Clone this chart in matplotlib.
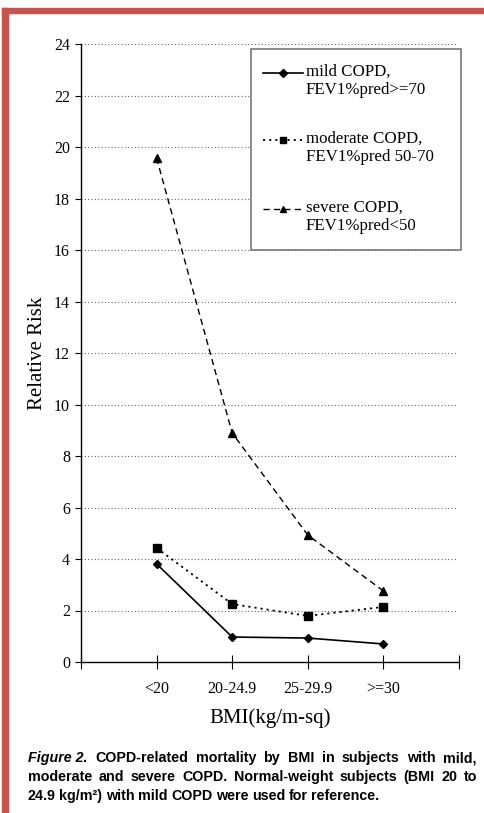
import matplotlib
matplotlib.use("Agg")
import matplotlib.pyplot as plt
from matplotlib.lines import Line2D
from matplotlib.patches import Rectangle

# data
categories = ["<20", "20-24.9", "25-29.9", ">=30"]
mild = [3.81, 0.97, 0.93, 0.70]
moderate = [4.43, 2.25, 1.79, 2.14]
severe = [19.57, 8.89, 4.93, 2.76]
series_labels = [
    "mild COPD,\nFEV1%pred>=70",
    "moderate COPD,\nFEV1%pred 50-70",
    "severe COPD,\nFEV1%pred<50",
]
y_ticks = list(range(0, 25, 2))
caption_lines = [
    "COPD-related mortality by BMI in subjects with mild,",
    "moderate and severe COPD. Normal-weight subjects (BMI 20 to",
    "24.9 kg/m\u00b2) with mild COPD were used for reference.",
]

serif = "Liberation Serif"
sans = "Liberation Sans"
W, H = 485, 813

fig = plt.figure(figsize=(W / 100, H / 100), dpi=100)

# red frame (left + top)
border = "#c9524f"
fig.patches.append(Rectangle((2 / W, 0), 6 / W, 1 - 8 / H, transform=fig.transFigure,
                             color=border, zorder=0))
fig.patches.append(Rectangle((2 / W, 1 - 13 / H), 1, 5 / H, transform=fig.transFigure,
                             color=border, zorder=0))

ax = fig.add_axes([81 / W, 1 - 662 / H, 378 / W, 618 / H])
x = list(range(1, len(categories) + 1))

styles = [
    dict(ls="-", marker="D", ms=4.5, lw=1.2),
    dict(ls=(0, (1.2, 2.2)), marker="s", ms=6, lw=1.3),
    dict(ls=(0, (4.5, 3)), marker="^", ms=6, lw=1.0),
]
for vals, st in zip([mild, moderate, severe], styles):
    ax.plot(x, vals, color="black", mec="black", mfc="black", zorder=3, **st)

ax.set_xlim(0, 5)
ax.set_ylim(0, 24)
ax.set_yticks(y_ticks)
ax.set_xticks(range(0, 6))
ax.set_xticklabels([""] + categories + [""])
ax.tick_params(axis="y", direction="out", length=4, width=0.8, pad=4)
ax.tick_params(axis="x", direction="inout", length=10, width=0.8, pad=9)
for lab in ax.get_xticklabels() + ax.get_yticklabels():
    lab.set_fontfamily(serif)
    lab.set_fontsize(11.5)

# dotted gridlines
for v in y_ticks[1:]:
    ax.plot([0, 4.98], [v, v], color="#666666", lw=0.8, ls=(0, (1, 2)), zorder=1)

for s in ["top", "right"]:
    ax.spines[s].set_visible(False)
ax.spines["left"].set_linewidth(1.0)
ax.spines["bottom"].set_linewidth(1.0)

ax.set_ylabel("Relative Risk", fontfamily=serif, fontsize=15, labelpad=5)
ax.set_xlabel("BMI(kg/m-sq)", fontfamily=serif, fontsize=15, labelpad=8)

# legend box drawn by hand so the handle sits on the first text line
lx0, lx1 = (251 - 81) / 378, (461 - 81) / 378
ly0, ly1 = (662 - 250) / 618, (662 - 49) / 618
ax.add_patch(Rectangle((lx0, ly0), lx1 - lx0, ly1 - ly0, transform=ax.transAxes,
                       facecolor="white", edgecolor="#777777", lw=1.2, zorder=4,
                       clip_on=False))
rows_y = [73, 140, 209]
hx = [(263 - 81) / 378, (283 - 81) / 378, (303 - 81) / 378]
for lab, st, ry in zip(series_labels, styles, rows_y):
    yy = (662 - ry) / 618
    h = Line2D(hx, [yy] * 3, transform=ax.transAxes, color="black", mfc="black",
               mec="black", zorder=5, markevery=[1], **{**st, "ms": st["ms"] * 0.8})
    h.set_clip_on(False)
    ax.add_line(h)
    ax.text((306 - 81) / 378, yy + 9 / 618, lab, transform=ax.transAxes,
            fontfamily=serif, fontsize=12.2, va="top", ha="left", linespacing=1.2,
            zorder=6)

# caption, justified line by line
fig.canvas.draw()
renderer = fig.canvas.get_renderer()
left_px, right_px = 28, 477
line_base = [762, 781, 800]
fs = 10.3
for i, (line, yb) in enumerate(zip(caption_lines, line_base)):
    pieces = []
    if i == 0:
        pieces.append(("Figure 2.", "italic"))
    pieces += [(w, "normal") for w in line.split(" ")]
    widths = []
    for w, style in pieces:
        t = fig.text(0, 0, w, fontfamily=sans, fontweight="bold", style=style, fontsize=fs)
        widths.append(t.get_window_extent(renderer).width)
        t.remove()
    if i < len(caption_lines) - 1:
        gap = (right_px - left_px - sum(widths)) / (len(pieces) - 1)
    else:
        gap = 3.5
    xp = left_px
    for (w, style), wd in zip(pieces, widths):
        fig.text(xp / W, 1 - yb / H, w, fontfamily=sans, fontweight="bold", style=style,
                 fontsize=fs, va="baseline", ha="left")
        xp += wd + gap

fig.savefig("out.png", dpi=100)
